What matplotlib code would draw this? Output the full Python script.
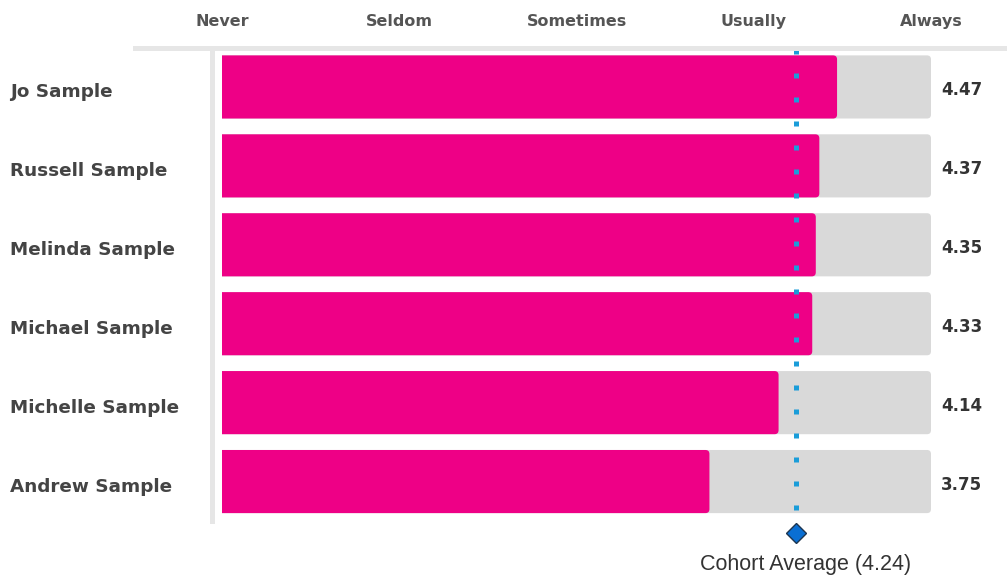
import matplotlib.pyplot as plt
from matplotlib.patches import PathPatch
from matplotlib.path import Path
from matplotlib.lines import Line2D
from matplotlib.transforms import offset_copy, ScaledTranslation

names = ['Jo Sample', 'Russell Sample', 'Melinda Sample', 'Michael Sample',
         'Michelle Sample', 'Andrew Sample']
scores = [4.47, 4.37, 4.35, 4.33, 4.14, 3.75]
scale_labels = ['Never', 'Seldom', 'Sometimes', 'Usually', 'Always']
scale_values = [1, 2, 3, 4, 5]
cohort_avg = 4.24

PINK = '#ee0086'
TRACK = '#d9d9d9'
RULE = '#e6e6e6'
DOTS = '#1a9dd9'

W, H = 1007, 579
fig = plt.figure(figsize=(W / 100, H / 100), dpi=100)
ax = fig.add_axes([222 / W, 1 - 521 / H, 709 / W, (521 - 47.5) / H])
ax.set_xlim(scale_values[0], scale_values[-1])
ax.set_ylim(len(names) - 0.5, -0.5)

# corner radius of 4px, converted to data units on each axis
rx = 4 * (scale_values[-1] - scale_values[0]) / 709
ry = 4 * len(names) / (521 - 47.5)
bar_h = 0.8


def right_rounded(x0, x1, y0, y1):
    verts = [(x0, y0), (x1 - rx, y0), (x1, y0), (x1, y0 + ry),
             (x1, y1 - ry), (x1, y1), (x1 - rx, y1), (x0, y1), (x0, y0)]
    codes = [Path.MOVETO, Path.LINETO, Path.CURVE3, Path.CURVE3,
             Path.LINETO, Path.CURVE3, Path.CURVE3, Path.LINETO, Path.CLOSEPOLY]
    return Path(verts, codes)


lo, hi = scale_values[0], scale_values[-1]
for i, v in enumerate(scores):
    y0, y1 = i - bar_h / 2, i + bar_h / 2
    ax.add_patch(PathPatch(right_rounded(lo, hi, y0, y1), fc=TRACK, ec='none', zorder=1))
    ax.add_patch(PathPatch(right_rounded(lo, v, y0, y1), fc=PINK, ec='none', zorder=2))
    ax.annotate(f'{v:.2f}', xy=(hi, i), xytext=(7.2, -2.5), textcoords='offset points',
                ha='left', va='center', fontsize=12, fontweight='bold',
                color='#333333', family='DejaVu Sans')

# cohort average marker line
ax.plot([cohort_avg, cohort_avg], [-0.48, len(names) - 0.6], color=DOTS, lw=3.6,
        linestyle=(0, (1, 3.8)), dash_capstyle='butt', zorder=5, clip_on=False)
below = offset_copy(ax.transData, fig=fig, y=-12, units='dots')
ax.plot([cohort_avg], [len(names) - 0.5], marker='D', ms=10, mfc='#0a6fd3',
        mec='#1d3550', mew=1.0, transform=below, clip_on=False, zorder=6)
ax.annotate(f'Cohort Average ({cohort_avg:.2f})', xy=(cohort_avg, len(names) - 0.5),
            xytext=(6.5, -31), textcoords='offset points', ha='center', va='center',
            fontsize=15.5, color='#333333', family='Liberation Sans')

for side in ['top', 'right', 'bottom']:
    ax.spines[side].set_visible(False)
# moving the spine resets the ticks, so do it before styling labels
ax.spines['left'].set_position(('outward', 7.2))
ax.spines['left'].set_linewidth(3.6)
ax.spines['left'].set_color(RULE)

# scale labels along the top
ax.set_xticks(scale_values, scale_labels)
ax.xaxis.tick_top()
ax.tick_params(axis='x', length=0, pad=13, labelsize=11.5, labelcolor='#555555')
for t in ax.get_xticklabels():
    t.set_fontweight('bold')

# participant names on the left
ax.set_yticks(range(len(names)), names)
ax.tick_params(axis='y', length=0, pad=145.4, labelsize=13.2, labelcolor='#444444')
nudge = ScaledTranslation(0, -3 / 100, fig.dpi_scale_trans)
for t in ax.get_yticklabels():
    t.set_horizontalalignment('left')
    t.set_fontweight('bold')
    t.set_transform(t.get_transform() + nudge)

fig.add_artist(Line2D([135 / W, 1], [1 - 47.5 / H] * 2, lw=3.6, color=RULE))

fig.savefig('out.png', dpi=100)
